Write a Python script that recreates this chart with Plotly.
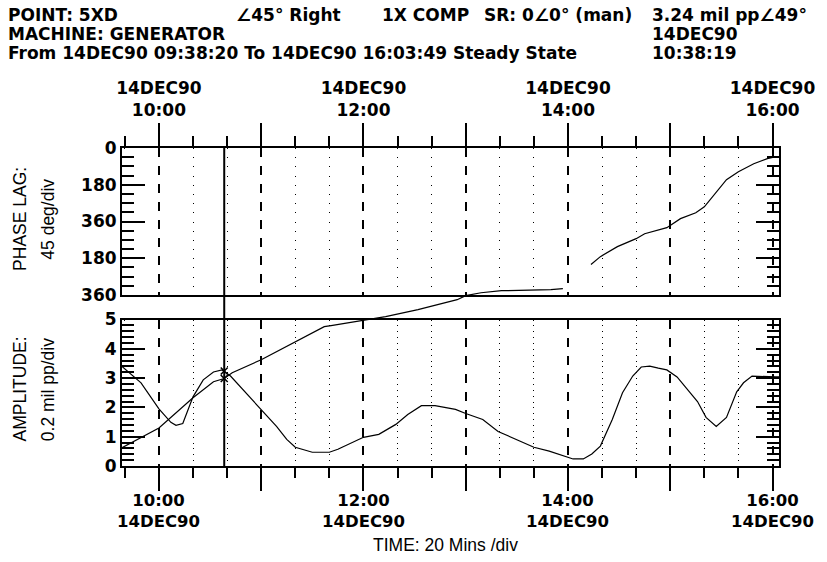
import plotly.graph_objects as go

# ---------------- data ----------------
DAY = "1990-12-14 "
x_start = "09:38:20"
x_end = "16:03:49"

amp_times = ["09:38:20", "09:49:30", "10:00", "10:07", "10:10", "10:14", "10:20", "10:26",
             "10:32", "10:37", "10:42", "10:51", "11:00", "11:09", "11:15", "11:20", "11:30",
             "11:40", "11:45", "12:00", "12:09", "12:19", "12:26", "12:34", "12:42", "12:54",
             "13:00", "13:10", "13:19", "13:30", "13:40", "13:49", "14:00", "14:03", "14:09",
             "14:14", "14:19", "14:26", "14:32", "14:38", "14:43", "14:48", "14:53", "14:58",
             "15:04", "15:10", "15:16", "15:21", "15:27", "15:33", "15:39", "15:43", "15:48",
             "16:02", "16:03:49"]
amp_vals = [3.40, 2.84, 1.95, 1.49, 1.39, 1.45, 2.36, 2.94, 3.21, 3.28, 3.07, 2.50, 1.92,
            1.35, 0.91, 0.64, 0.47, 0.47, 0.57, 0.98, 1.08, 1.42, 1.76, 2.06, 2.06, 1.93,
            1.79, 1.59, 1.18, 0.91, 0.64, 0.51, 0.30, 0.24, 0.24, 0.41, 0.68, 1.59, 2.50,
            3.07, 3.38, 3.41, 3.34, 3.28, 3.04, 2.60, 2.20, 1.66, 1.35, 1.66, 2.53, 2.84,
            3.07, 3.04, 3.04]

# phase lag (deg, unwrapped) - first record
phase1_times = ["09:38:20", "10:00", "10:20", "10:32", "10:38:19", "10:43", "11:00", "11:20",
                "11:37", "11:41", "12:00", "12:13", "12:32", "12:55", "13:00", "13:09",
                "13:21", "13:50", "13:57"]
phase1_vals = [1468, 1371, 1223, 1145, 1129, 1101, 1037, 949, 875, 870, 846, 826, 792, 743,
               723, 709, 699, 694, 689]
# phase lag - second record
phase2_times = ["14:13:30", "14:19", "14:29", "14:40", "14:45", "14:51", "14:58", "15:06",
                "15:15", "15:20", "15:26", "15:33", "15:40", "15:49", "15:57", "16:02"]
phase2_vals = [571, 532, 483, 444, 420, 405, 390, 346, 317, 288, 229, 155, 116, 77, 52, 43]

cursor_time = "10:38:19"
cursor_amp = 3.24
cursor_phase = 1129   # 49 deg shown (unwrapped)

hour_ticks = ["10:00", "11:00", "12:00", "13:00", "14:00", "15:00", "16:00"]
minor_time_ticks = ["09:40", "10:20", "10:40", "11:20", "11:40", "12:20", "12:40", "13:20",
                    "13:40", "14:20", "14:40", "15:20", "15:40", "16:20"]
top_tick_text = ["14DEC90<br>10:00", "", "14DEC90<br>12:00", "", "14DEC90<br>14:00", "",
                 "14DEC90<br>16:00"]
label_hours = ["10:00", "12:00", "14:00", "16:00"]
label_date = "14DEC90"
phase_tickvals = [0, 180, 360, 540, 720]
phase_ticktext = ["0", "180", "360", "180", "360"]
phase_minor = [45, 90, 135, 225, 270, 315, 405, 450, 495, 585, 630, 675]
amp_tickvals = [0, 1, 2, 3, 4, 5]
amp_ticktext = ["0", "1", "2", "3", "4", "5"]
amp_minor = [0.2, 0.4, 0.6, 0.8, 1.2, 1.4, 1.6, 1.8, 2.2, 2.4, 2.6, 2.8, 3.2, 3.4, 3.6, 3.8,
             4.2, 4.4, 4.6, 4.8]

header_lines = [
    [("POINT: 5XD", 5), ("∠45° Right", 235), ("1X COMP", 382), ("SR: 0∠0° (man)", 485),
     ("3.24 mil pp∠49°", 655)],
    [("MACHINE: GENERATOR", 5), ("14DEC90", 655)],
    [("From 14DEC90 09:38:20 To 14DEC90 16:03:49 Steady State", 5), ("10:38:19", 655)],
]

# ---------------- layout geometry ----------------
W, H = 827, 562
ML, MR, MT, MB = 122, 42, 148, 96
PW, PH = W - ML - MR, H - MT - MB
PHASE_BOTTOM_PX = 295
AMP_TOP_PX = 319.5
phase_dom = [(H - MB - PHASE_BOTTOM_PX) / PH, 1]
amp_dom = [0, (H - MB - AMP_TOP_PX) / PH]
phase_px = (1 - phase_dom[0]) * PH
overlay_max = 720 * PH / phase_px


def px2x(px):
    return (px - ML) / PW


def px2y(py):
    return (H - MB - py) / PH


def d(t):
    return DAY + t


BOLD = dict(family="DejaVu Sans", size=17, color="black", weight="bold")
BOLD_B = dict(family="DejaVu Sans", size=16.5, color="black", weight="bold")
REG = dict(family="Liberation Sans", size=17.5, color="black")

fig = go.Figure()

fig.add_trace(go.Scatter(x=[d(t) for t in amp_times], y=amp_vals, mode="lines",
                         line=dict(color="black", width=1.2), xaxis="x", yaxis="y2",
                         showlegend=False, hoverinfo="skip"))
# empty trace so the phase panel subplot exists
fig.add_trace(go.Scatter(x=[d(x_start)], y=[None], mode="lines", xaxis="x2", yaxis="y",
                         showlegend=False, hoverinfo="skip"))
fig.add_trace(go.Scatter(x=[d(t) for t in phase1_times], y=phase1_vals, mode="lines",
                         line=dict(color="black", width=1.2), xaxis="x3", yaxis="y3",
                         showlegend=False, hoverinfo="skip"))
fig.add_trace(go.Scatter(x=[d(t) for t in phase2_times], y=phase2_vals, mode="lines",
                         line=dict(color="black", width=1.2), xaxis="x3", yaxis="y3",
                         showlegend=False, hoverinfo="skip"))
fig.add_trace(go.Scatter(x=[d(cursor_time)], y=[cursor_amp], mode="markers",
                         marker=dict(symbol="x-thin", size=7, line=dict(color="black", width=1.5)),
                         xaxis="x", yaxis="y2", showlegend=False, hoverinfo="skip"))
fig.add_trace(go.Scatter(x=[d(cursor_time)], y=[cursor_phase], mode="markers",
                         marker=dict(symbol="x-thin", size=7, line=dict(color="black", width=1.5)),
                         xaxis="x3", yaxis="y3", showlegend=False, hoverinfo="skip"))


def xaxis_cfg(anchor, side, ticktext, dot, show_labels):
    return dict(type="date", range=[d(x_start), d(x_end)], domain=[0, 1],
                anchor=anchor, side=side,
                tickmode="array", tickvals=[d(t) for t in hour_ticks], ticktext=ticktext,
                showticklabels=show_labels,
                ticks="outside", ticklen=23, tickwidth=2, tickcolor="black",
                showline=True, linewidth=2, linecolor="black", mirror=True,
                showgrid=True, gridcolor="black", gridwidth=1.5, griddash="9px,9px",
                tickfont=BOLD, zeroline=False, fixedrange=True,
                minor=dict(tickmode="array", tickvals=[d(t) for t in minor_time_ticks],
                           ticks="outside", ticklen=10, tickwidth=2, tickcolor="black",
                           showgrid=True, gridcolor="black", gridwidth=1, griddash=dot))


def yaxis_cfg(domain, anchor, rng, tv, tt, minor_vals):
    return dict(domain=domain, anchor=anchor, range=rng, tickmode="array",
                tickvals=tv, ticktext=tt,
                ticks="inside", ticklen=23, tickwidth=2, tickcolor="black",
                showline=True, linewidth=2, linecolor="black", mirror="ticks",
                showgrid=False, zeroline=False, tickfont=BOLD, fixedrange=True,
                minor=dict(tickmode="array", tickvals=minor_vals, ticks="inside",
                           ticklen=12, tickwidth=2, tickcolor="black", showgrid=False))


fig.update_layout(
    width=W, height=H,
    margin=dict(l=ML, r=MR, t=MT, b=MB, pad=0),
    paper_bgcolor="white", plot_bgcolor="rgba(0,0,0,0)",
    showlegend=False,
    xaxis=xaxis_cfg("y2", "bottom", None, "1px,4.86px", False),
    xaxis2=xaxis_cfg("y", "top", top_tick_text, "1px,8.19px", True),
    xaxis3=dict(type="date", range=[d(x_start), d(x_end)], domain=[0, 1], anchor="y3",
                visible=False, showgrid=False, fixedrange=True),
    yaxis=yaxis_cfg(phase_dom, "x2", [720, 0], phase_tickvals, phase_ticktext, phase_minor),
    yaxis2=yaxis_cfg(amp_dom, "x", [0, 5], amp_tickvals, amp_ticktext, amp_minor),
    yaxis3=dict(domain=[0, 1], anchor="x3", range=[overlay_max, 0], visible=False,
                showgrid=False, fixedrange=True),
)

fig.add_shape(type="line", xref="x", yref="paper", x0=d(cursor_time), x1=d(cursor_time),
              y0=0, y1=1, line=dict(color="black", width=2))

anns = []
line_y = [15.5, 34, 52.5]
for row, yy in zip(header_lines, line_y):
    for txt, xx in row:
        anns.append(dict(text=txt, x=px2x(xx), y=px2y(yy), xref="paper", yref="paper",
                         xanchor="left", yanchor="middle", showarrow=False, font=BOLD))

# bottom time-axis labels (time over date under each labelled hour)
for hh in label_hours:
    anns.append(dict(text=hh + "<br>" + label_date, x=d(hh), y=px2y(510.5), xref="x",
                     yref="paper", xanchor="center", yanchor="middle", showarrow=False,
                     font=BOLD_B, borderpad=0))

anns.append(dict(text="PHASE LAG:", x=px2x(19), y=px2y(219), xref="paper", yref="paper",
                 textangle=-90, xanchor="center", yanchor="middle", showarrow=False, font=REG))
anns.append(dict(text="45 deg/div", x=px2x(47), y=px2y(219), xref="paper", yref="paper",
                 textangle=-90, xanchor="center", yanchor="middle", showarrow=False, font=REG))
anns.append(dict(text="AMPLITUDE:", x=px2x(19), y=px2y(443), xref="paper", yref="paper",
                 textangle=-90, xanchor="center", yanchor="bottom", showarrow=False, font=REG))
anns.append(dict(text="0.2 mil pp/div", x=px2x(47), y=px2y(443), xref="paper", yref="paper",
                 textangle=-90, xanchor="center", yanchor="bottom", showarrow=False, font=REG))
anns.append(dict(text="TIME: 20 Mins /div", x=px2x(448), y=px2y(545), xref="paper",
                 yref="paper", xanchor="center", yanchor="middle", showarrow=False, font=REG,
                 borderpad=0))
fig.update_layout(annotations=anns)

fig.write_html("out.html", config={"displayModeBar": False},
               post_script="document.body.style.margin='0';"
                           "document.body.style.overflow='hidden';")
